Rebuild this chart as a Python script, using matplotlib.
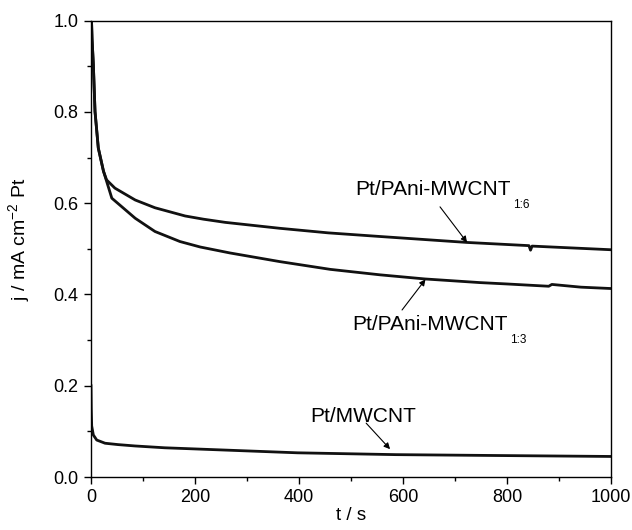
import numpy as np
import matplotlib
matplotlib.use('Agg')
import matplotlib.pyplot as plt
from matplotlib.ticker import MultipleLocator, FormatStrFormatter

plt.rcParams['font.family'] = ['Liberation Sans', 'DejaVu Sans']
plt.rcParams['mathtext.fontset'] = 'custom'
plt.rcParams['mathtext.rm'] = 'Liberation Sans'

#values
t_16 = [0, 1, 2, 4.5, 7.7, 14, 24, 30, 46, 85, 123, 181, 216, 258, 363, 456, 556, 723,
        842, 845, 848, 1000]
j_16 = [1.05, 1.0, 0.96, 0.904, 0.801, 0.721, 0.670, 0.651, 0.633, 0.607, 0.590, 0.572, 0.565, 0.558,
        0.545, 0.535, 0.527, 0.514, 0.507, 0.497, 0.506, 0.498]

t_13 = [0, 1, 2, 4.5, 7.7, 14, 24, 30, 40, 85, 123, 171, 210, 267, 363, 460, 556, 642, 748,
        800, 880, 886, 942, 1000]
j_13 = [1.05, 1.0, 0.96, 0.904, 0.801, 0.721, 0.670, 0.648, 0.611, 0.567, 0.538, 0.516, 0.504, 0.491,
        0.472, 0.455, 0.443, 0.434, 0.426, 0.423, 0.418, 0.422, 0.416, 0.413]

t_mw = [0, 0.5, 1.3, 4.5, 11, 27, 52, 85, 142, 258, 397, 586, 789, 1000]
j_mw = [0.20, 0.15, 0.112, 0.092, 0.081, 0.074, 0.071, 0.068, 0.064, 0.059, 0.053, 0.049, 0.047, 0.045]

fig = plt.figure(figsize=(6.32, 5.3), dpi=100)
ax = fig.add_axes([0.144, 0.1, 0.823, 0.861])

ax.plot(t_16, j_16, color='#111111', lw=2.0)
ax.plot(t_13, j_13, color='#111111', lw=2.0)
ax.plot(t_mw, j_mw, color='#111111', lw=2.0)

ax.set_xlim(0, 1000)
ax.set_ylim(0, 1.0)
ax.xaxis.set_major_locator(MultipleLocator(200))
ax.xaxis.set_minor_locator(MultipleLocator(100))
ax.yaxis.set_major_locator(MultipleLocator(0.2))
ax.yaxis.set_minor_locator(MultipleLocator(0.1))
ax.yaxis.set_major_formatter(FormatStrFormatter('%.1f'))
ax.tick_params(which='both', direction='out', top=False, right=False, labelsize=13, width=1, pad=4)
ax.tick_params(which='major', length=5)
ax.tick_params(which='minor', length=3)
for s in ax.spines.values():
    s.set_linewidth(1.0)

ax.set_xlabel('t / s', fontsize=13.5, labelpad=0)
ax.set_ylabel(r'j / mA cm$^{\mathrm{-2}}$ Pt', fontsize=14)
ax.yaxis.set_label_coords(-0.112, 0.522)

arrow = dict(arrowstyle='-|>', color='black', lw=0.8, mutation_scale=9, shrinkA=0, shrinkB=0)
ax.annotate('', xy=(723, 0.514), xytext=(671, 0.592), arrowprops=arrow)
ax.annotate('', xy=(643, 0.433), xytext=(598, 0.366), arrowprops=arrow)
ax.annotate('', xy=(575, 0.061), xytext=(529, 0.118), arrowprops=arrow)

lab16 = ax.text(508, 0.618, 'Pt/PAni-MWCNT', fontsize=15, va='baseline', ha='left')
lab13 = ax.text(502, 0.322, 'Pt/PAni-MWCNT', fontsize=15, va='baseline', ha='left')
ax.text(421, 0.121, 'Pt/MWCNT', fontsize=15, va='baseline', ha='left')
ax.annotate('1:6', xy=(1, 0), xycoords=lab16, xytext=(2, -6.5), textcoords='offset points',
            fontsize=8.5, va='baseline', ha='left')
ax.annotate('1:3', xy=(1, 0), xycoords=lab13, xytext=(2, -6.5), textcoords='offset points',
            fontsize=8.5, va='baseline', ha='left')

fig.savefig('out.png', dpi=100)
